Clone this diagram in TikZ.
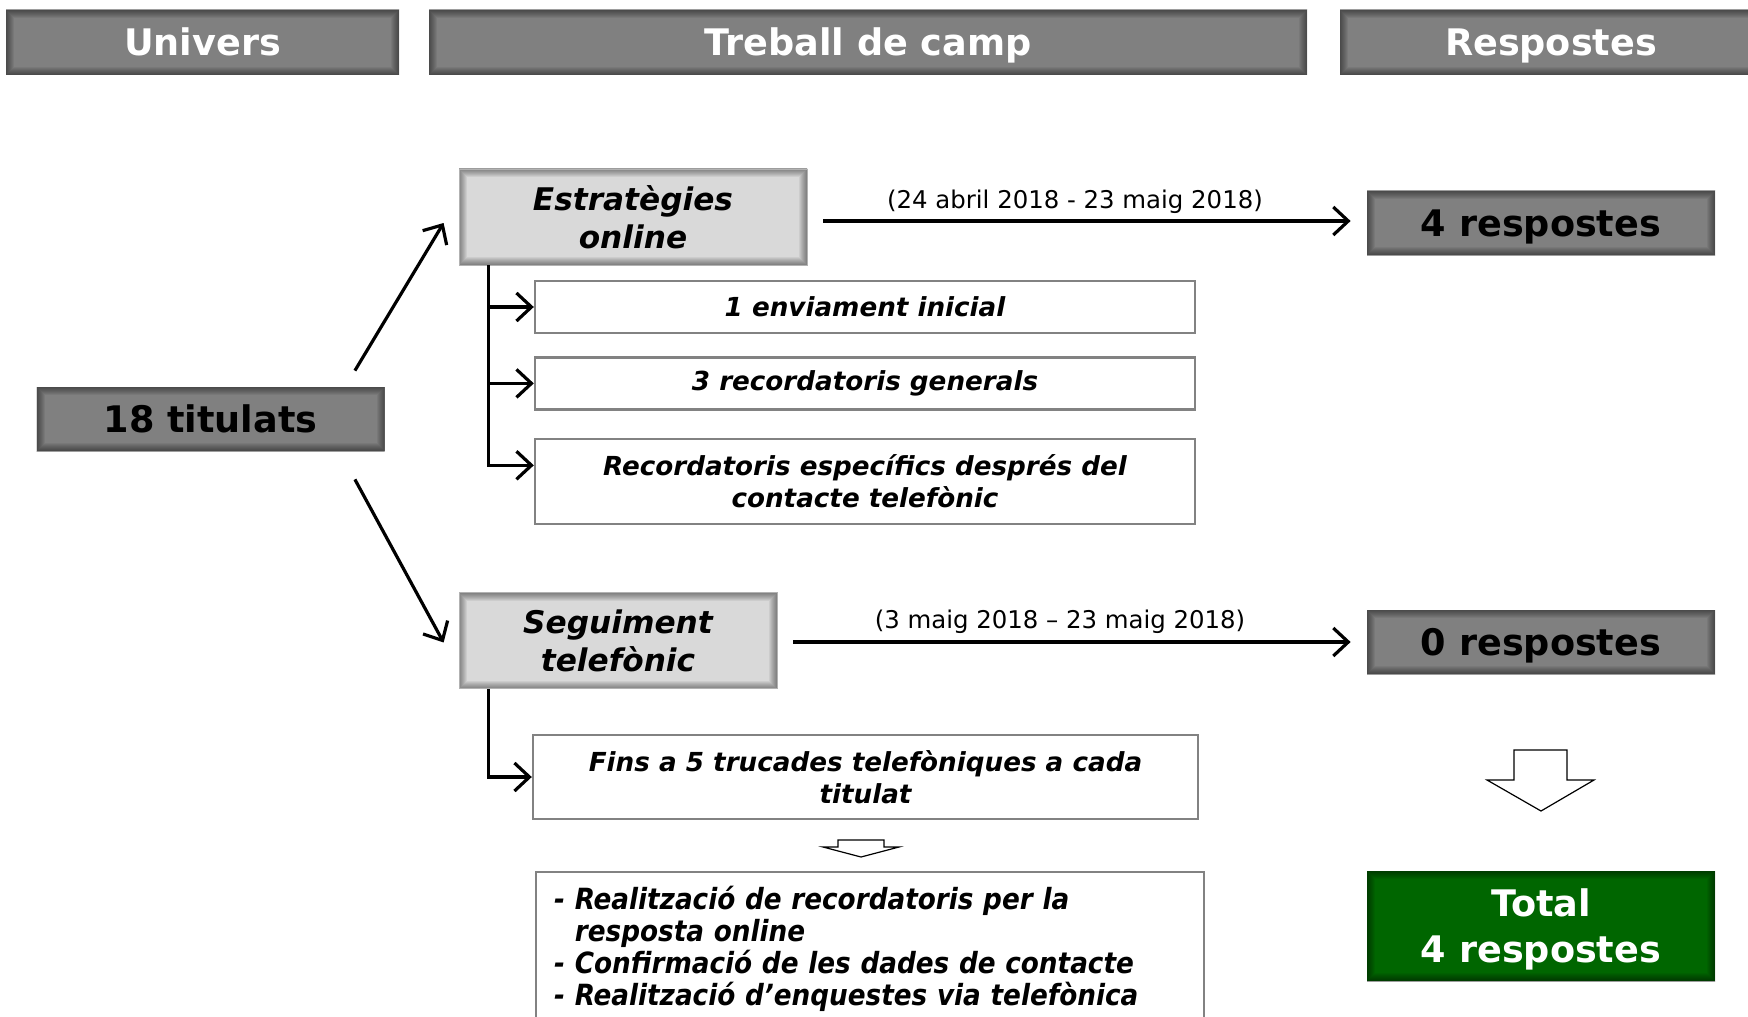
\documentclass[tikz,border=0pt]{standalone}
\usepackage{fontspec}
\setmainfont{DejaVu Sans}[BoldItalicFont={DejaVu Sans Bold Oblique},ItalicFont={DejaVu Sans Oblique}]
\newfontfamily\narrowfont{DejaVu Sans Condensed}[BoldItalicFont={DejaVu Sans Condensed Bold Oblique}]
\usetikzlibrary{arrows.meta,positioning}

\definecolor{boxgray}{RGB}{128,128,128}
\definecolor{softgray}{RGB}{217,217,217}
\definecolor{totalgreen}{RGB}{0,102,0}
\definecolor{linegray}{RGB}{130,130,130}

\tikzset{
  inshadow/.style={path picture={
      \foreach \k in {1,...,8}
        \draw[black,opacity=0.06,line width=\k pt]
          (path picture bounding box.south west) rectangle (path picture bounding box.north east);}},
  header/.style={fill=boxgray,inshadow,text=white,minimum height=32.5pt,
    text height=13.4pt,text depth=0pt,
    font=\bfseries\fontsize{18.3}{22}\selectfont},
  darkbox/.style={fill=boxgray,inshadow,minimum width=174pt,minimum height=32pt,
    text height=13.4pt,text depth=0pt,
    font=\bfseries\fontsize{18.3}{22}\selectfont},
  softbox/.style={fill=softgray,inshadow,draw=gray!60,line width=0.4pt,align=center,
    minimum height=48pt,font=\bfseries\itshape\fontsize{15.6}{19}\selectfont},
  stepbox/.style={draw=linegray,line width=1.2pt,fill=white,align=center,
    minimum width=330pt,font=\bfseries\itshape\fontsize{13.1}{16}\selectfont},
  notebox/.style={draw=linegray,line width=1.2pt,fill=white,align=left,
    text width=316pt,inner xsep=9pt,inner ysep=7pt,
    font=\narrowfont\bfseries\itshape\fontsize{14.6}{16}\selectfont},
  greenbox/.style={fill=totalgreen,inshadow,text=white,align=center,text depth=0pt,
    minimum width=174pt,minimum height=55pt,font=\bfseries\fontsize{18.3}{23}\selectfont},
  datelabel/.style={font=\fontsize{12.2}{14}\selectfont,inner sep=2pt,xshift=-6pt},
  flow/.style={line width=1.6pt,-{Straight Barb[length=7.5pt,width=14pt]}},
  hollow/.style={draw=black,fill=white,line width=0.6pt}
}

\begin{document}
\begin{tikzpicture}[x=0.5pt,y=-0.5pt]
\useasboundingbox (0,0) rectangle (1748,1016);

% column titles
\foreach \txt/\x/\w [count=\n] in {Univers/202.5/196.5,Treball de camp/868/439,Respostes/1551/211}
  \node[header,minimum width=\w pt] (H\n) at (\x,42.5) {\txt};

% universe and strategies
\node[darkbox] (titulats) at (210.5,419) {18 titulats};
\node[softbox,minimum width=174pt] (online) at (633,217) {Estratègies\\online};
\node[softbox,minimum width=159pt] (phone) at (618,640.5) {Seguiment\\telefònic};

% steps
\node[stepbox,minimum height=26pt] (send) at (865,307) {1 enviament inicial};
\node[stepbox,minimum height=26pt,below=11pt of send] (remind) {3 recordatoris generals};
\node[stepbox,minimum height=42.5pt,below=13.5pt of remind] (specific)
  {Recordatoris específics després del\\contacte telefònic};
\node[stepbox,minimum width=332.5pt,minimum height=42pt] (calls) at (865.5,777)
  {Fins a 5 trucades telefòniques a cada\\titulat};
\node[notebox,anchor=north west] (tasks) at (535,871)
  {- Realització de recordatoris per la\\\phantom{- }resposta online\\- Confirmació de les dades de contacte\\- Realització d’enquestes via telefònica};

% answers
\node[darkbox] (resp4) at (1541,223) {4 respostes};
\node[darkbox] (resp0) at (1541,642) {0 respostes};
\node[greenbox] (total) at (1541,926) {Total\\4 respostes};

% connectors
\draw[flow] ([shift={(-15pt,8pt)}]titulats.north east) -- ([shift={(-7.5pt,-3pt)}]online.west);
\draw[flow] ([shift={(-15pt,-14pt)}]titulats.south east) -- ([shift={(-7.5pt,-1pt)}]phone.west);

\coordinate (a1) at ([xshift=8pt,yshift=1pt]online.east);
\coordinate (b1) at ([xshift=-8pt,yshift=1pt]resp4.west);
\draw[flow] (a1 |- b1) -- node[datelabel,above=1pt]{(24 abril 2018 - 23 maig 2018)} (b1);
\coordinate (a2) at ([xshift=8pt]phone.east);
\draw[flow] (a2 |- resp0.west) -- node[datelabel,above=1.5pt]{(3 maig 2018 – 23 maig 2018)} ([xshift=-8pt]resp0.west);

\coordinate (trunkA) at ([xshift=15pt]online.south west);
\draw[flow] (trunkA) |- ([yshift=8pt]specific.west);
\foreach \b in {send,remind}
  \draw[flow] (trunkA |- \b.west) -- (\b.west);
\coordinate (trunkB) at ([xshift=15pt]phone.south west);
\draw[flow] (trunkB) |- (calls.west);

% block arrows
\draw[hollow] (838,840) -- (884,840) -- (884,847) -- (899,847) -- (861,857) -- (823,847) -- (838,847) -- cycle;
\draw[hollow] (1514,750) -- (1567,750) -- (1567,780) -- (1594,780) -- (1541,811) -- (1487,780) -- (1514,780) -- cycle;
\end{tikzpicture}
\end{document}
